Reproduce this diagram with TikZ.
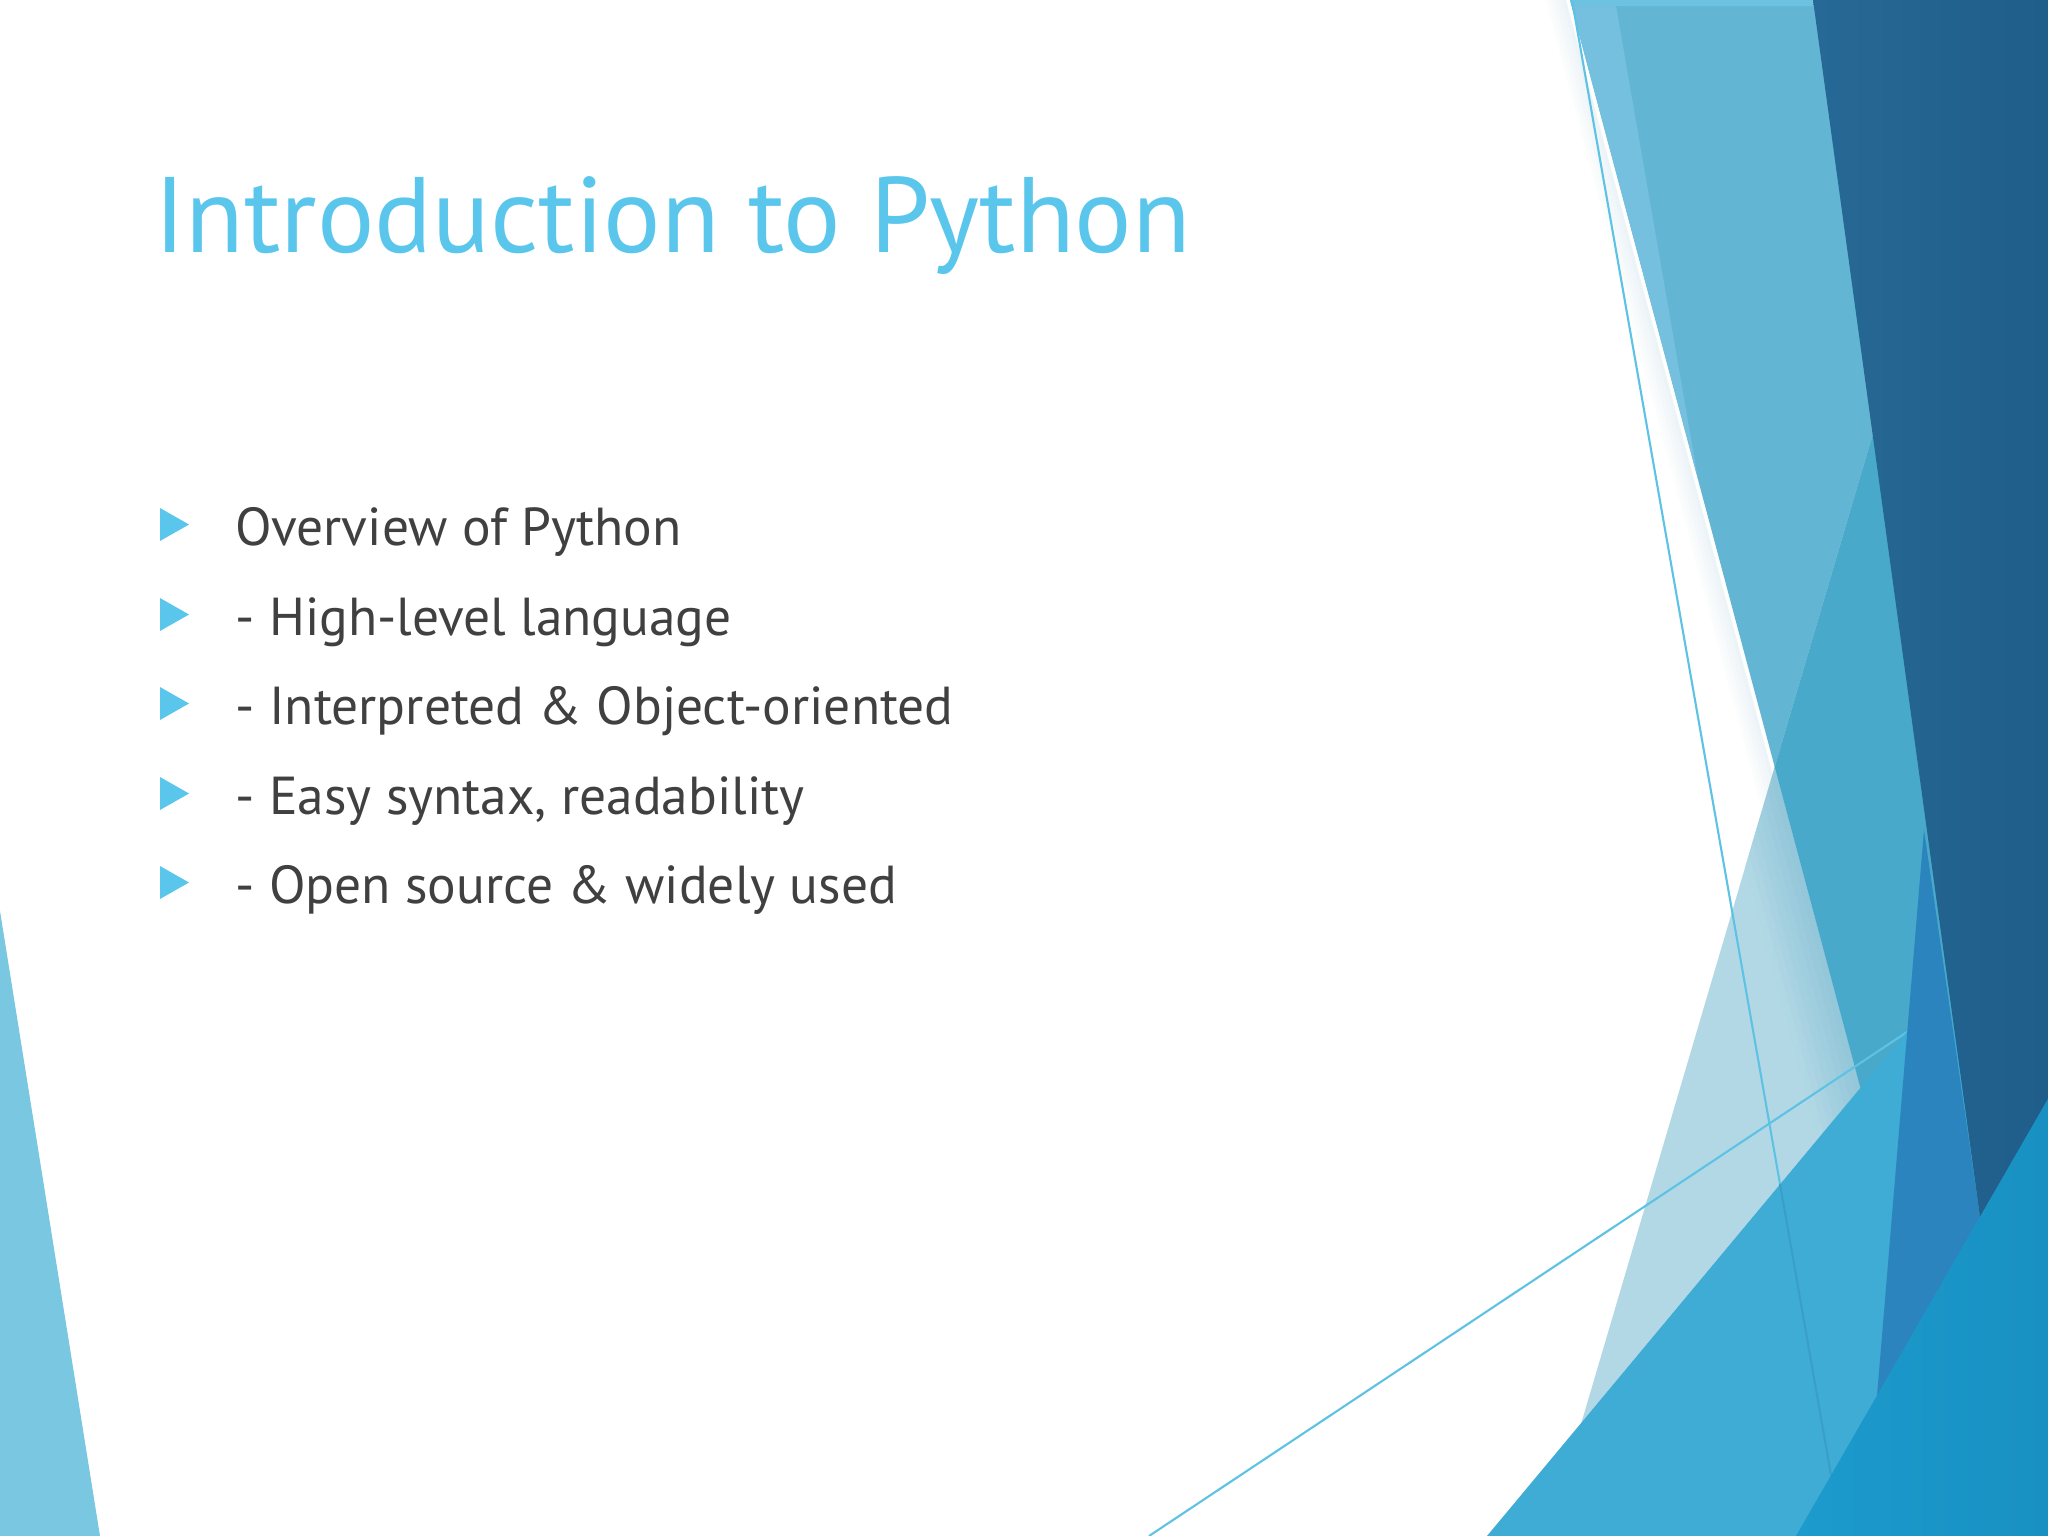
\documentclass[tikz,border=0pt]{standalone}
\usepackage{fontspec}
\setmainfont{PT Sans}
\definecolor{titlec}{HTML}{5BC6EC}
\definecolor{bodyc}{HTML}{404040}
\definecolor{ltc}{HTML}{7AC7E1}
\definecolor{lonec}{HTML}{63B5D4}
\definecolor{stripc}{HTML}{74C0DE}
\definecolor{topc}{HTML}{6DC1E1}
\definecolor{pc}{HTML}{B2D8E5}
\definecolor{psh}{HTML}{93C7D9}
\definecolor{wsh}{HTML}{DCEAF0}
\definecolor{plc}{HTML}{48A9CB}
\definecolor{tc}{HTML}{3FACD5}
\definecolor{bc}{HTML}{2B84BE}
\definecolor{dl}{HTML}{276996}
\definecolor{dr}{HTML}{1F5D8A}
\definecolor{rl}{HTML}{1C9BCC}
\definecolor{rr}{HTML}{1890C2}
\definecolor{linec}{HTML}{5EC2E4}
\definecolor{linefc}{HTML}{3A9FC8}
\tikzset{
  titletext/.style={anchor=base west, inner sep=0pt, text=titlec, font=\fontsize{30.5pt}{36pt}\selectfont},
  bodytext/.style={anchor=base west, inner sep=0pt, text=bodyc, font=\fontsize{15.2pt}{18pt}\selectfont},
  thinline/.style={draw=linec, line width=0.6pt},
}
\begin{document}
\begin{tikzpicture}[x=0.01cm,y=-0.01cm]
\useasboundingbox (0,0) rectangle (2048,1536);
\fill[white] (0,0) rectangle (2048,1536);
% left triangle
\fill[ltc] (0,911) -- (100,1536) -- (0,1536) -- cycle;
% soft shadow of the big light shape on white
\foreach \k in {0,...,4}{
  \pgfmathsetmacro{\da}{24-4*\k}
  \pgfmathsetmacro{\db}{20-4*\k}
  \pgfmathsetmacro{\pp}{10+11*\k}
  \fill[wsh!\pp!white] (1570-\da,0) -- (1570-\db,0) -- (1980-\db,1536) -- (1980-\da,1536) -- cycle;
}
% big light shape
\fill[lonec] (1570,0) -- (2048,0) -- (2048,1536) -- (1980,1536) -- cycle;
\fill[stripc] (1570,0) -- (1615,0) -- (1698,479) -- cycle;
\fill[topc] (1570,0) -- (1813,0) -- (1814,6) -- (1572,6) -- cycle;
% pale translucent shape
\fill[pc] (1872,437) -- (2048,437) -- (2048,1536) -- (1548,1536) -- cycle;
\begin{scope}
  \clip (1872,437) -- (2048,437) -- (2048,1536) -- (1548,1536) -- cycle;
  \foreach \k in {0,...,7}{
    \pgfmathsetmacro{\da}{56-7*\k}
    \pgfmathsetmacro{\db}{49-7*\k}
    \pgfmathsetmacro{\pp}{8+13*\k}
    \fill[psh!\pp!pc] (1570-\da,0) -- (1570-\db,0) -- (1980-\db,1536) -- (1980-\da,1536) -- cycle;
  }
  \fill[plc] (1570,0) -- (2048,0) -- (2048,1536) -- (1980,1536) -- cycle;
\end{scope}
% thin lines
\coordinate (la) at (1572,0);
\coordinate (lb) at (1780,1184);
\coordinate (lc) at (1831,1475);
\coordinate (ma) at (1149,1536);
\coordinate (mb) at (1907,1032);
\draw[thinline] (la) -- (lb);
\draw[thinline] (ma) -- (mb);
% bright triangle
\fill[tc] (1487,1536) -- (1907,1032) -- (2048,1032) -- (2048,1536) -- cycle;
\draw[draw=linefc, line width=0.6pt] (lb) -- (lc);
% band
\fill[bc] (1924,830) -- (1980,1217) -- (1877,1396) -- cycle;
% dark shape
\shade[left color=dl, right color=dr] (1813,0) -- (2048,0) -- (2048,1099) -- (1980,1217) -- cycle;
% lower right triangle
\shade[left color=rl, right color=rr] (2048,1099) -- (2048,1536) -- (1796,1536) -- cycle;
% text
\node[titletext] (title) at (154,252) {Introduction to Python};
\foreach \y/\t [count=\i] in {545/{Overview of Python},635/{- High-level language},724/{- Interpreted \& Object-oriented},814/{- Easy syntax, readability},903/{- Open source \& widely used}}{
  \fill[titlec] (160,\y-37) -- (189,\y-20.5) -- (160,\y-4) -- cycle;
  \node[bodytext] (item\i) at (235,\y) {\t};
}
\end{tikzpicture}
\end{document}
